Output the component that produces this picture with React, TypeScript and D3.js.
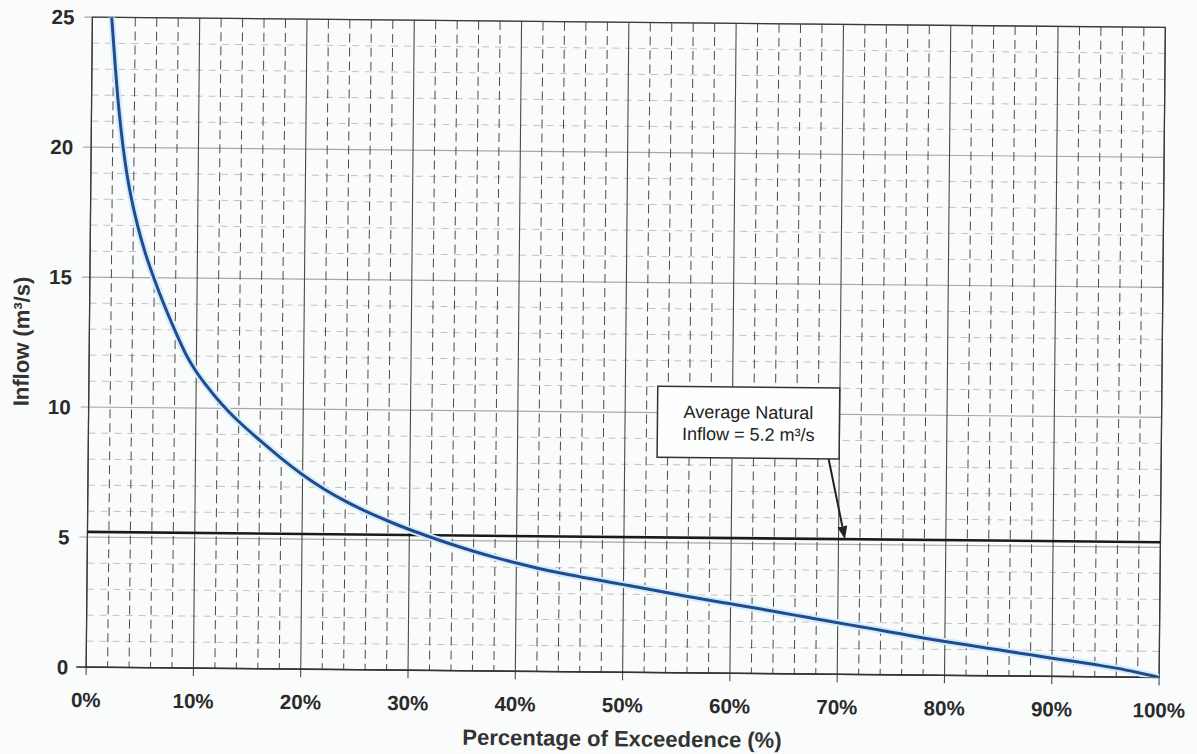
import React from "react";
import * as d3 from "d3";

// ---- data ----
const exceedancePct = [
  1.8, 2.0, 2.2, 2.42, 2.68, 2.98, 3.35, 3.82, 4.4, 5.1, 5.95, 6.9, 7.95, 9.1,
  10, 11, 12, 13, 14, 16, 18, 20, 22, 24, 26, 28, 30, 32, 34, 36, 38, 40, 42, 44,
  46, 48, 50, 52, 54, 56, 58, 60, 62, 64, 66, 68, 70, 72, 74, 76, 78, 80, 82, 84,
  86, 88, 90, 92, 94, 96, 98, 100,
];
const inflow = [
  25, 24, 23, 22, 21, 20, 19, 18, 17, 16, 15, 14, 13, 12,
  11.4, 10.85, 10.35, 9.9, 9.5, 8.78, 8.1, 7.48, 6.94, 6.48, 6.08, 5.73, 5.41, 5.12, 4.85, 4.6, 4.37, 4.16, 3.97, 3.8,
  3.65, 3.51, 3.37, 3.23, 3.08, 2.94, 2.8, 2.67, 2.54, 2.4, 2.26, 2.12, 1.98, 1.85, 1.71, 1.57, 1.43, 1.3, 1.18, 1.06,
  0.94, 0.82, 0.7, 0.59, 0.47, 0.34, 0.18, 0.0,
];
const averageInflow = 5.2;
const xMajorTicks = [0, 10, 20, 30, 40, 50, 60, 70, 80, 90, 100];
const yMajorTicks = [0, 5, 10, 15, 20, 25];
const annotationLines = ["Average Natural", "Inflow = 5.2 m\u00b3/s"];
const annotationAnchor = { pct: 61.5, value: 9.65 };
const arrowFrom = { pct: 69.0 };
const arrowTo = { pct: 70.6, value: averageInflow };

const W = 1197;
const H = 754;
const left = 89.25;
const right = 1162.25;
const top = 22.25;
const bottom = 672.25;
const tilt = 0.55;
const cx = (left + right) / 2;
const cy = (top + bottom) / 2;

export default function App() {
  const x = d3.scaleLinear().domain([0, 100]).range([left, right]);
  const y = d3.scaleLinear().domain([0, 25]).range([bottom, top]);

  const xMinor = d3.range(0, 101, 2).filter((v) => v % 10 !== 0);
  const yMinor = d3.range(0, 26, 1).filter((v) => v % 5 !== 0);

  const line = d3
    .line<number>()
    .x((_, i) => x(exceedancePct[i]))
    .y((d) => y(d))
    .curve(d3.curveMonotoneX);
  const path = line(inflow) || "";

  const boxW = 182;
  const boxH = 71;
  const bx = x(annotationAnchor.pct);
  const by = y(annotationAnchor.value);
  const ax0 = x(arrowFrom.pct);
  const ay0 = by + boxH / 2;
  const ax1 = x(arrowTo.pct);
  const ay1 = y(arrowTo.value);
  const ang = Math.atan2(ay1 - ay0, ax1 - ax0);
  const headL = 13;
  const headW = 5;
  const hx = ax1 - headL * Math.cos(ang);
  const hy = ay1 - headL * Math.sin(ang);
  const head = [
    [ax1, ay1],
    [hx + headW * Math.sin(ang), hy - headW * Math.cos(ang)],
    [hx - headW * Math.sin(ang), hy + headW * Math.cos(ang)],
  ]
    .map((p) => p.join(","))
    .join(" ");

  const font = "'Liberation Sans', Arial, Helvetica, sans-serif";

  return (
    <svg
      width={W}
      height={H}
      style={{ position: "absolute", left: 0, top: 0, background: "#fafcfc" }}
      fontFamily={font}
    >
      <defs>
        <clipPath id="plotClip">
          <rect x={left} y={top} width={right - left} height={bottom - top} />
        </clipPath>
      </defs>
      <g transform={`rotate(${tilt}, ${cx}, ${cy})`}>
        {/* horizontal minor grid */}
        {yMinor.map((v) => (
          <line
            key={"hy" + v}
            x1={left}
            x2={right}
            y1={y(v)}
            y2={y(v)}
            stroke="#c2c2c2"
            strokeWidth={1}
            strokeDasharray="7,6"
          />
        ))}
        {/* horizontal major grid */}
        {yMajorTicks.map((v) => (
          <line
            key={"hY" + v}
            x1={left - 8}
            x2={right}
            y1={y(v)}
            y2={y(v)}
            stroke="#a8a8a8"
            strokeWidth={1.2}
          />
        ))}
        {/* vertical minor grid */}
        {xMinor.map((v) => (
          <line
            key={"vx" + v}
            x1={x(v)}
            x2={x(v)}
            y1={top}
            y2={bottom}
            stroke="#4a4a4a"
            strokeWidth={1}
            strokeDasharray="9,5"
          />
        ))}
        {/* vertical major grid */}
        {xMajorTicks.map((v) => (
          <line
            key={"vX" + v}
            x1={x(v)}
            x2={x(v)}
            y1={top}
            y2={bottom + 8}
            stroke="#4a4a4a"
            strokeWidth={1.1}
          />
        ))}
        {/* frame */}
        <rect
          x={left}
          y={top}
          width={right - left}
          height={bottom - top}
          fill="none"
          stroke="#3a3a3a"
          strokeWidth={1.3}
        />
        <line x1={left - 10} x2={right} y1={bottom} y2={bottom} stroke="#333" strokeWidth={1.5} />

        {/* average line */}
        <line
          x1={x(0)}
          x2={x(100)}
          y1={y(averageInflow)}
          y2={y(averageInflow)}
          stroke="#1a1a1a"
          strokeWidth={2.6}
        />

        {/* flow duration curve */}
        <g clipPath="url(#plotClip)">
          <path d={path} fill="none" stroke="#d4ecf8" strokeWidth={7} strokeLinejoin="round" />
          <path d={path} fill="none" stroke="#1f4c8f" strokeWidth={3} strokeLinejoin="round" />
        </g>

        {/* annotation */}
        <line x1={ax0} y1={ay0} x2={hx} y2={hy} stroke="#222" strokeWidth={2} />
        <polygon points={head} fill="#222" />
        <rect
          x={bx - boxW / 2}
          y={by - boxH / 2}
          width={boxW}
          height={boxH}
          fill="#fdfefe"
          stroke="#333"
          strokeWidth={1.5}
        />
        <text x={bx} y={by - 4} textAnchor="middle" fontSize={18} fill="#222">
          {annotationLines[0]}
        </text>
        <text x={bx} y={by + 18} textAnchor="middle" fontSize={18} fill="#222">
          {annotationLines[1]}
        </text>

        {/* y tick labels */}
        {yMajorTicks.map((v) => (
          <text
            key={"ty" + v}
            x={left - 18}
            y={y(v)}
            dy="0.36em"
            textAnchor="end"
            fontSize={20.5}
            fontWeight="bold"
            fill="#2a2a2a"
          >
            {v}
          </text>
        ))}
        {/* x tick labels */}
        {xMajorTicks.map((v) => (
          <text
            key={"tx" + v}
            x={x(v)}
            y={bottom + 40}
            textAnchor="middle"
            fontSize={20.5}
            fontWeight="bold"
            fill="#2a2a2a"
          >
            {v + "%"}
          </text>
        ))}

        {/* axis titles */}
        <text
          x={cx}
          y={bottom + 74}
          textAnchor="middle"
          fontSize={22}
          fontWeight="bold"
          fill="#333"
        >
          Percentage of Exceedence (%)
        </text>
        <text
          transform={`translate(29, ${cy}) rotate(-90)`}
          textAnchor="middle"
          fontSize={22}
          fontWeight="bold"
          fill="#333"
        >
          Inflow (m³/s)
        </text>
      </g>
    </svg>
  );
}
